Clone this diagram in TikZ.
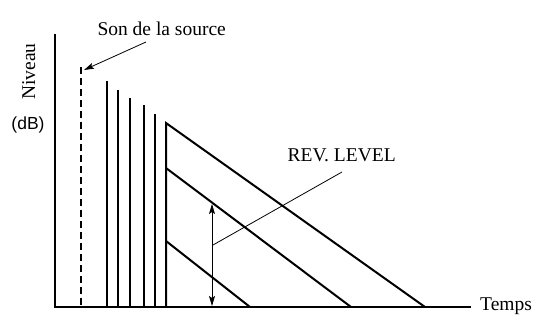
\documentclass[tikz,border=0pt]{standalone}
\usepackage{fontspec}
\setmainfont{Liberation Serif}
\setsansfont{Liberation Sans}
\usetikzlibrary{arrows.meta}
\begin{document}
\begin{tikzpicture}[x=1pt,y=-1pt,
  axis/.style={line width=1.2pt},
  bar/.style={line width=2pt},
  thin/.style={line width=0.8pt},
  lbl/.style={font=\fontsize{19.5}{22}\selectfont, inner sep=0pt, anchor=base},
  tip/.style={-{Stealth[length=10pt,width=6pt,inset=2pt]}}]
\useasboundingbox (0,0) rectangle (544,332);
% axes
\coordinate (o) at (55,307);
\coordinate (ytop) at (55,34);
\coordinate (xend) at (471,307);
\draw[axis] (ytop) -- (o) -- (xend);
\node[lbl, anchor=base west] (temps) at (480,310) {Temps};
\node[lbl, rotate=90] (niveau) at (35,71.5) {Niveau};
\node[lbl, font=\sffamily\fontsize{17.5}{20}\selectfont] (db) at (28,129) {(dB)};
% source (dashed)
\coordinate (s0) at (81,307);
\coordinate (s1) at (81,67);
\draw[bar, dash pattern=on 7pt off 4pt] (s1) -- (s0);
\node[lbl] (son) at (161.7,35) {Son de la source};
\coordinate (sa) at (146,42);
\draw[thin, tip] (sa) -- (84,70);
% early reflections
\foreach \x/\t [count=\i] in {107/81, 118/90, 130/98, 144/105, 155/114}{
  \coordinate (b\i) at (\x,\t);
  \draw[bar] (b\i) -- (\x,307);
}
% reverb triangles
\coordinate (t1) at (166,123);
\coordinate (t2) at (166,168);
\coordinate (t3) at (166,241);
\coordinate (e1) at (425,307);
\coordinate (e2) at (351,307);
\coordinate (e3) at (250,307);
\draw[bar] (166,307) -- (t1) -- (e1);
\draw[bar] (t2) -- (e2);
\draw[bar] (t3) -- (e3);
% rev level arrow
\coordinate (a1) at (212,204);
\coordinate (a2) at (212,306);
\draw[thin, {Stealth[length=10pt,width=6pt,inset=2pt]}-{Stealth[length=10pt,width=6pt,inset=2pt]}] (a1) -- (a2);
\node[lbl] (rev) at (341.7,161.7) {REV. LEVEL};
\coordinate (l1) at (213,245);
\coordinate (l2) at (342,172);
\draw[thin] (l1) -- (l2);
\end{tikzpicture}
\end{document}
